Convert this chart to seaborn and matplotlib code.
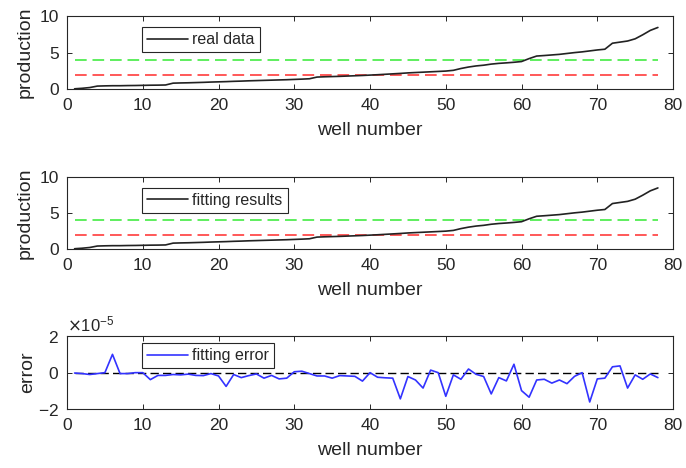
import numpy as np
import pandas as pd
import matplotlib
matplotlib.use("Agg")
import matplotlib.pyplot as plt
from matplotlib.ticker import ScalarFormatter
import seaborn as sns

# production of each well (sorted)
real_prod = [0.08, 0.15, 0.25, 0.45, 0.48, 0.50, 0.50, 0.52, 0.53, 0.55,
             0.57, 0.58, 0.60, 0.85, 0.88, 0.90, 0.93, 0.96, 1.00, 1.03,
             1.06, 1.10, 1.13, 1.17, 1.20, 1.23, 1.26, 1.29, 1.32, 1.36,
             1.40, 1.45, 1.68, 1.72, 1.75, 1.78, 1.82, 1.86, 1.90, 1.95,
             2.00, 2.06, 2.12, 2.18, 2.25, 2.30, 2.35, 2.40, 2.45, 2.50,
             2.60, 2.85, 3.05, 3.20, 3.30, 3.45, 3.55, 3.62, 3.70, 3.80,
             4.20, 4.55, 4.62, 4.70, 4.78, 4.90, 5.02, 5.12, 5.25, 5.38,
             5.48, 6.30, 6.45, 6.60, 6.90, 7.45, 8.05, 8.45]

# fitting error in units of 1e-5
fit_err = [-0.02, -0.05, -0.10, -0.05, 0.00, 1.00, -0.05, -0.05, 0.00, 0.00,
           -0.38, -0.15, -0.15, -0.10, -0.12, -0.08, -0.15, -0.16, -0.05, -0.18,
           -0.75, -0.10, -0.27, -0.16, -0.07, -0.30, -0.15, -0.34, -0.30, 0.05,
           0.08, -0.05, -0.18, -0.18, -0.30, -0.16, -0.18, -0.20, -0.46, 0.00,
           -0.25, -0.28, -0.30, -1.43, -0.21, -0.40, -0.84, 0.14, 0.00, -1.29,
           -0.12, -0.36, 0.20, -0.09, -0.21, -1.16, -0.27, -0.45, 0.46, -0.98,
           -1.34, -0.40, -0.36, -0.57, -0.40, -0.60, -0.20, 0.00, -1.60, -0.34,
           -0.30, 0.32, 0.37, -0.84, -0.12, -0.36, -0.07, -0.27]

upper_level = 4
lower_level = 2

wells = np.arange(1, len(real_prod) + 1)
df = pd.DataFrame({"well": wells, "real": real_prod,
                   "error": np.array(fit_err) * 1e-5})
df["fit"] = df["real"] + df["error"]
x_span = [wells[0], wells[-1]]

sns.set_theme(style="ticks")
plt.rcParams["font.family"] = ["Liberation Sans", "DejaVu Sans"]
plt.rcParams["axes.unicode_minus"] = False
plt.rcParams["text.color"] = "#262626"
plt.rcParams["axes.labelcolor"] = "#262626"
plt.rcParams["axes.edgecolor"] = "#262626"
plt.rcParams["xtick.color"] = "#262626"
plt.rcParams["ytick.color"] = "#262626"

fig = plt.figure(figsize=(6.86, 4.68), dpi=100)
L, W = 0.0977, 0.8834
ax1 = fig.add_axes([L, 0.809, W, 0.1566])
ax2 = fig.add_axes([L, 0.4673, W, 0.1552])
ax3 = fig.add_axes([L, 0.1254, W, 0.1566])

dash = (6, 3)


def style_axis(ax):
    ax.set_xlim(0, 80)
    ax.set_xticks(range(0, 81, 10))
    ax.tick_params(direction="in", length=3.5, width=0.7, labelsize=12.5,
                   top=True, right=True, pad=6)
    for s in ax.spines.values():
        s.set_linewidth(0.8)
        s.set_visible(True)
    ax.set_xlabel("well number", fontsize=14, labelpad=7)


def add_legend(ax, x, y):
    leg = ax.legend(loc="upper left", bbox_to_anchor=(x, y), fontsize=11.5,
                    frameon=True, fancybox=False, framealpha=1,
                    edgecolor="#262626", borderaxespad=0, borderpad=0.3,
                    handlelength=2.6, handletextpad=0.25)
    leg.get_frame().set_linewidth(0.8)


for ax, col, lab in [(ax1, "real", "real data"), (ax2, "fit", "fitting results")]:
    ax.plot(x_span, [upper_level] * 2, color="#5eee5e", lw=1.4, dashes=dash)
    ax.plot(x_span, [lower_level] * 2, color="#ff5858", lw=1.4, dashes=dash)
    sns.lineplot(data=df, x="well", y=col, ax=ax, color="#222222",
                 lw=1.2, label=lab)
    ax.set_ylim(0, 10)
    ax.set_yticks([0, 5, 10])
    ax.set_ylabel("production", fontsize=14, labelpad=4)
    style_axis(ax)
    add_legend(ax, 0.124, 0.845)

ax3.plot(x_span, [0, 0], color="black", lw=1.0, dashes=dash)
sns.lineplot(data=df, x="well", y="error", ax=ax3, color="#3333ff",
             lw=1.2, label="fitting error")
ax3.set_ylim(-2e-5, 2e-5)
ax3.set_yticks([-2e-5, 0, 2e-5])
fmt = ScalarFormatter(useMathText=True)
fmt.set_powerlimits((0, 0))
ax3.yaxis.set_major_formatter(fmt)
ax3.yaxis.get_offset_text().set_fontsize(12)
ax3.set_ylabel("error", fontsize=14, labelpad=1)
style_axis(ax3)
add_legend(ax3, 0.124, 0.9)

fig.savefig("out.png", dpi=100)
